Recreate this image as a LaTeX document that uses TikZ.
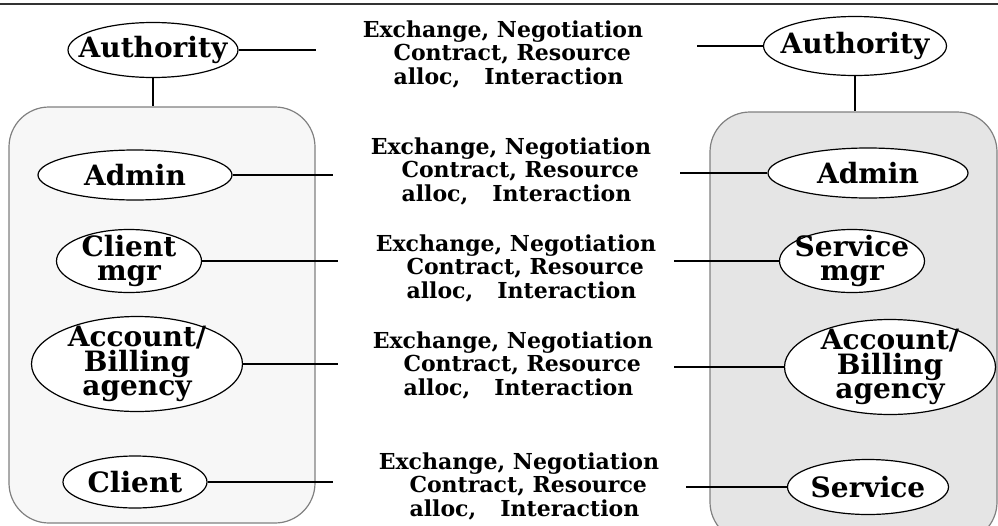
\documentclass[tikz,border=0pt]{standalone}
\usepackage{fontspec}
\setmainfont{DejaVu Serif}
\usetikzlibrary{shapes.geometric}
\tikzset{
  role/.style={draw, ellipse, fill=white, inner sep=0pt, line width=1.2pt},
  rolename/.style={align=center, inner sep=0pt, font=\bfseries\fontsize{28}{24.5}\selectfont},
  talk/.style={align=left, anchor=west, inner sep=0pt, font=\bfseries\fontsize{22}{23.5}\selectfont},
  zonebox/.style={draw=black!50, rounded corners=40pt, line width=1.2pt}
}
\begin{document}
\begin{tikzpicture}[x=1pt, y=-1pt, line width=1.5pt]
\useasboundingbox (0,0) rectangle (998,525);
\draw[black!80] (0,4) -- (998,4);

\node[zonebox, fill=black!3, minimum width=306pt, minimum height=416pt] (boxL) at (162,315) {};
\node[zonebox, fill=black!10, minimum width=287pt, minimum height=430pt] (boxR) at (853.5,327) {};

\node[role, minimum width=170pt, minimum height=55pt, label={[rolename]center:Authority}] (authL) at (153,50) {};
\node[role, minimum width=194pt, minimum height=50pt, label={[rolename]center:Admin}] (admL) at (135,175) {};
\node[role, minimum width=145pt, minimum height=63pt, label={[rolename]center:Client\\mgr}] (cmgrL) at (129,261) {};
\node[role, minimum width=211pt, minimum height=95pt, label={[rolename]center:Account/\\Billing\\agency}] (accL) at (137,364) {};
\node[role, minimum width=144pt, minimum height=52pt, label={[rolename]center:Client}] (cliL) at (135,482) {};

\node[role, minimum width=183pt, minimum height=59pt, label={[rolename]center:Authority}] (authR) at (855,46) {};
\node[role, minimum width=200pt, minimum height=50pt, label={[rolename]center:Admin}] (admR) at (868,173) {};
\node[role, minimum width=145pt, minimum height=63pt, label={[rolename]center:Service\\mgr}] (smgrR) at (852,261) {};
\node[role, minimum width=211pt, minimum height=95pt, label={[rolename]center:Account/\\Billing\\agency}] (accR) at (890,367) {};
\node[role, minimum width=161pt, minimum height=55pt, label={[rolename]center:Service}] (srvR) at (868,487) {};

\node[talk] (talk1) at (362,54) {Exchange, Negotiation\\\hspace*{1.4em}Contract, Resource\\\hspace*{1.4em}alloc,\hspace{1.1em}Interaction};
\node[talk] (talk2) at (370,171) {Exchange, Negotiation\\\hspace*{1.4em}Contract, Resource\\\hspace*{1.4em}alloc,\hspace{1.1em}Interaction};
\node[talk] (talk3) at (375,268) {Exchange, Negotiation\\\hspace*{1.4em}Contract, Resource\\\hspace*{1.4em}alloc,\hspace{1.1em}Interaction};
\node[talk] (talk4) at (372,365) {Exchange, Negotiation\\\hspace*{1.4em}Contract, Resource\\\hspace*{1.4em}alloc,\hspace{1.1em}Interaction};
\node[talk] (talk5) at (378,486) {Exchange, Negotiation\\\hspace*{1.4em}Contract, Resource\\\hspace*{1.4em}alloc,\hspace{1.1em}Interaction};

\coordinate (authLend) at (316,50);
\coordinate (admLend) at (333,175);
\coordinate (cmgrLend) at (338,261);
\coordinate (accLend) at (338,364);
\coordinate (cliLend) at (333,482);
\coordinate (authRend) at (697,46);
\coordinate (admRend) at (680,173);
\coordinate (smgrRend) at (674,261);
\coordinate (accRend) at (674,367);
\coordinate (srvRend) at (686,487);

\draw (authL) -- (authLend);
\draw (admL) -- (admLend);
\draw (cmgrL) -- (cmgrLend);
\draw (accL) -- (accLend);
\draw (cliL) -- (cliLend);
\draw (authR) -- (authRend);
\draw (admR) -- (admRend);
\draw (smgrR) -- (smgrRend);
\draw (accR) -- (accRend);
\draw (srvR) -- (srvRend);

\draw (authL.south) -- (authL.south |- boxL.north);
\draw (authR.south) -- (authR.south |- boxR.north);
\end{tikzpicture}
\end{document}
